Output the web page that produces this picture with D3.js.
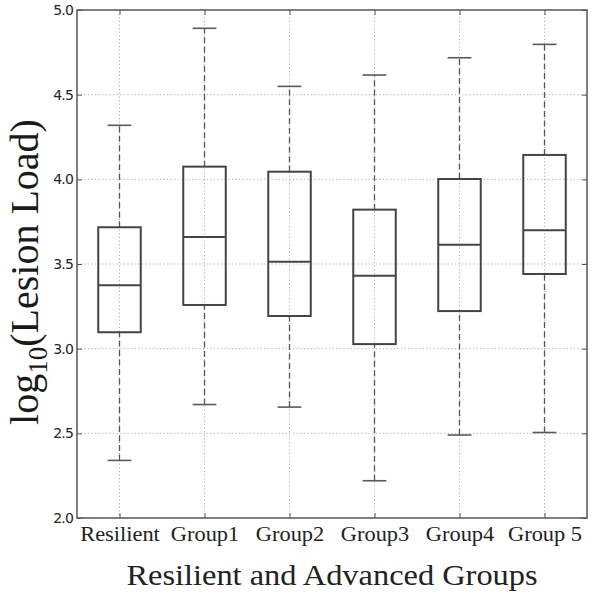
<!DOCTYPE html>
<html>
<head>
<meta charset="utf-8">
<script src="https://cdn.jsdelivr.net/npm/d3@7"></script>
<style>
  body { margin: 0; background: #fff; }
  .grid line { stroke: #9a9a9a; stroke-dasharray: 1.2,2.4; stroke-width: 0.8; }
</style>
</head>
<body>
<div class="chart"></div>
<script>
var groups = ["Resilient", "Group1", "Group2", "Group3", "Group4", "Group 5"];
var lowerWhisker = [2.34, 2.67, 2.655, 2.22, 2.49, 2.505];
var q1Values = [3.097, 3.258, 3.193, 3.027, 3.222, 3.441];
var medianValues = [3.374, 3.66, 3.514, 3.431, 3.614, 3.70];
var q3Values = [3.717, 4.075, 4.045, 3.821, 4.002, 4.144];
var upperWhisker = [4.319, 4.892, 4.549, 4.616, 4.718, 4.797];
var yTicks = [2.0, 2.5, 3.0, 3.5, 4.0, 4.5, 5.0];

var svgWidth = 600;
var svgHeight = 596;

var margin = { top: 10, right: 13, bottom: 78, left: 77 };
var width = svgWidth - margin.left - margin.right;
var height = svgHeight - margin.top - margin.bottom;

var svg = d3.select(".chart")
  .append("svg")
  .attr("width", svgWidth)
  .attr("height", svgHeight);

var chartGroup = svg.append("g")
  .attr("transform", `translate(${margin.left}, ${margin.top})`);

var xScale = d3.scaleLinear().domain([0.5, 6.5]).range([0, width]);
var yScale = d3.scaleLinear().domain([2.0, 5.0]).range([height, 0]);
var step = xScale(2) - xScale(1);
var boxW = step * 0.5;
var capW = step * 0.28;

// grid
var grid = chartGroup.append("g").attr("class", "grid");
grid.selectAll(".hg").data(yTicks.slice(1, -1)).enter().append("line")
  .attr("x1", 0).attr("x2", width)
  .attr("y1", d => yScale(d)).attr("y2", d => yScale(d));
grid.selectAll(".vg").data(groups).enter().append("line")
  .attr("x1", (d, i) => xScale(i + 1)).attr("x2", (d, i) => xScale(i + 1))
  .attr("y1", 0).attr("y2", height);

// boxes
var data = groups.map((g, i) => ({
  name: g, pos: i + 1, lo: lowerWhisker[i], q1: q1Values[i],
  med: medianValues[i], q3: q3Values[i], hi: upperWhisker[i]
}));

var boxes = chartGroup.selectAll(".box").data(data).enter().append("g");

boxes.append("line")
  .attr("x1", d => xScale(d.pos)).attr("x2", d => xScale(d.pos))
  .attr("y1", d => yScale(d.q3)).attr("y2", d => yScale(d.hi))
  .attr("stroke", "#555").attr("stroke-width", 1.3).attr("stroke-dasharray", "6,3.5");
boxes.append("line")
  .attr("x1", d => xScale(d.pos)).attr("x2", d => xScale(d.pos))
  .attr("y1", d => yScale(d.lo)).attr("y2", d => yScale(d.q1))
  .attr("stroke", "#555").attr("stroke-width", 1.3).attr("stroke-dasharray", "6,3.5");

["hi", "lo"].forEach(function(k) {
  boxes.append("line")
    .attr("x1", d => xScale(d.pos) - capW / 2).attr("x2", d => xScale(d.pos) + capW / 2)
    .attr("y1", d => yScale(d[k])).attr("y2", d => yScale(d[k]))
    .attr("stroke", "#5a5a5a").attr("stroke-width", 1.6);
});

boxes.append("rect")
  .attr("x", d => xScale(d.pos) - boxW / 2)
  .attr("y", d => yScale(d.q3))
  .attr("width", boxW)
  .attr("height", d => yScale(d.q1) - yScale(d.q3))
  .attr("fill", "none").attr("stroke", "#444").attr("stroke-width", 2);

boxes.append("line")
  .attr("x1", d => xScale(d.pos) - boxW / 2).attr("x2", d => xScale(d.pos) + boxW / 2)
  .attr("y1", d => yScale(d.med)).attr("y2", d => yScale(d.med))
  .attr("stroke", "#444").attr("stroke-width", 2);

// frame
chartGroup.append("rect")
  .attr("x", 0).attr("y", 0).attr("width", width).attr("height", height)
  .attr("fill", "none").attr("stroke", "#555").attr("stroke-width", 1.5);

// axes (ticks inside, matplotlib classic)
var leftAxis = d3.axisLeft(yScale).tickValues(yTicks).tickFormat(d3.format(".1f"))
  .tickSizeInner(-5).tickSizeOuter(0).tickPadding(4);
var yAxis = chartGroup.append("g").call(leftAxis);
yAxis.select(".domain").remove();
yAxis.selectAll("line").attr("stroke", "#555");
yAxis.selectAll("text").attr("font-family", "DejaVu Sans").attr("font-size", 14)
  .attr("letter-spacing", "-0.8px").attr("fill", "#222");

var rightAxis = d3.axisRight(yScale).tickValues(yTicks).tickSizeInner(-5).tickSizeOuter(0).tickFormat("");
var yAxisR = chartGroup.append("g").attr("transform", `translate(${width},0)`).call(rightAxis);
yAxisR.select(".domain").remove();
yAxisR.selectAll("line").attr("stroke", "#555");

var bottomAxis = d3.axisBottom(xScale).tickValues(d3.range(1, 7))
  .tickFormat(d => groups[d - 1]).tickSizeInner(-5).tickSizeOuter(0).tickPadding(9);
var xAxis = chartGroup.append("g").attr("transform", `translate(0, ${height})`).call(bottomAxis);
xAxis.select(".domain").remove();
xAxis.selectAll("line").attr("stroke", "#555");
xAxis.selectAll("text").attr("font-family", "Liberation Serif").attr("font-size", 20)
  .attr("transform", "scale(1.12,1)").attr("fill", "#222");

var topAxis = d3.axisTop(xScale).tickValues(d3.range(1, 7)).tickSizeInner(-5).tickSizeOuter(0).tickFormat("");
var xAxisT = chartGroup.append("g").call(topAxis);
xAxisT.select(".domain").remove();
xAxisT.selectAll("line").attr("stroke", "#555");

// labels
svg.append("text")
  .attr("transform", `translate(${margin.left + width / 2}, 585) scale(1.08,1)`)
  .attr("text-anchor", "middle")
  .attr("font-family", "Liberation Serif")
  .attr("font-size", 30)
  .attr("fill", "#222")
  .text("Resilient and Advanced Groups");

var yl = svg.append("text")
  .attr("transform", "translate(38, 272) rotate(-90)")
  .attr("text-anchor", "middle")
  .attr("font-family", "Liberation Serif")
  .attr("font-size", 40)
  .attr("fill", "#1a1a1a");
yl.append("tspan").text("log");
yl.append("tspan").attr("font-size", 27).attr("dy", 9).text("10");
yl.append("tspan").attr("dy", -9).text("(Lesion Load)");
</script>
</body>
</html>
